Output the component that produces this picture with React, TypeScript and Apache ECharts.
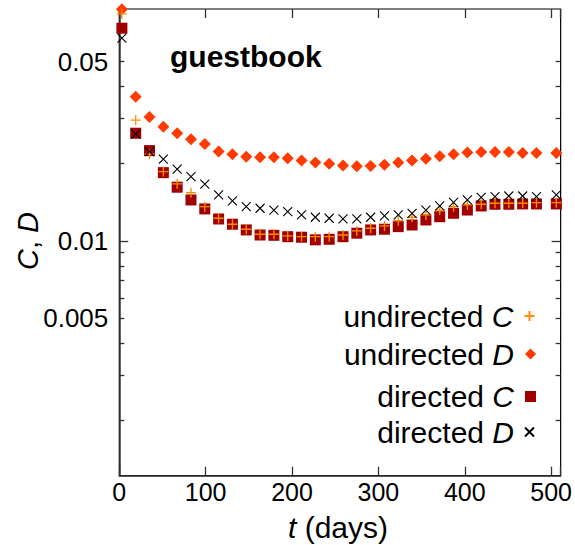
import React, { useEffect, useRef } from "react";
import * as echarts from "echarts";

// time (days) of each sample
const tDays = [3, 19, 35, 51, 67, 83, 99, 115, 131, 147, 163, 179, 195, 211, 227, 243, 259, 275, 291, 307, 323, 339, 355, 371, 387, 403, 419, 435, 451, 467, 483, 506];

const undirectedC = [0.0767, 0.0296, 0.0218, 0.01864, 0.01668, 0.01543, 0.0136, 0.01226, 0.01162, 0.01111, 0.01062, 0.01062, 0.01046, 0.0104, 0.01039, 0.01039, 0.01055, 0.01094, 0.01121, 0.01144, 0.012, 0.01237, 0.01263, 0.0132, 0.0136, 0.01382, 0.0139, 0.01403, 0.01403, 0.01403, 0.0141, 0.0141];
const undirectedD = [0.0800, 0.0365, 0.0304, 0.0279, 0.0263, 0.0249, 0.0239, 0.0223, 0.0218, 0.0213, 0.0212, 0.0212, 0.021, 0.0206, 0.0202, 0.0200, 0.0197, 0.01955, 0.0196, 0.0198, 0.0202, 0.0206, 0.0209, 0.0214, 0.0218, 0.0221, 0.0222, 0.0222, 0.0222, 0.022, 0.022, 0.022];
const directedC = [0.0675, 0.0263, 0.0225, 0.01846, 0.0162, 0.01445, 0.01333, 0.01218, 0.01162, 0.01104, 0.01055, 0.01052, 0.01039, 0.01034, 0.0101, 0.01015, 0.01039, 0.01072, 0.01104, 0.01111, 0.01137, 0.01154, 0.01207, 0.01243, 0.01282, 0.0132, 0.01369, 0.0139, 0.0139, 0.01394, 0.01394, 0.01394];
const directedD = [0.0617, 0.0261, 0.0223, 0.02083, 0.01904, 0.01781, 0.01664, 0.01511, 0.01432, 0.0136, 0.01341, 0.0132, 0.01301, 0.01263, 0.01237, 0.01226, 0.01218, 0.01218, 0.01237, 0.01252, 0.01263, 0.01282, 0.0132, 0.01369, 0.01415, 0.01445, 0.0148, 0.01488, 0.01497, 0.01497, 0.01488, 0.01511];

const yMinorTicks = [0.002, 0.003, 0.004, 0.005, 0.006, 0.007, 0.008, 0.009, 0.02, 0.03, 0.04, 0.05];
const yMajorTicks = [0.01];
const yTickLabels = [0.005, 0.01, 0.05];
const xTickLabels = [0, 100, 200, 300, 400, 500];

const FONT = "Liberation Sans, Arial, Helvetica, sans-serif";
const lg = (v: number) => Math.log10(v);
const Y_MIN = lg(0.001216);
const Y_MAX = lg(0.0802);

export default function App() {
  const ref = useRef<HTMLDivElement>(null);
  useEffect(() => {
    if (!ref.current) return;
    const chart = echarts.init(ref.current, undefined, { renderer: "svg" });
    const pts = (ys: number[]) => tDays.map((t, i) => [t, lg(ys[i])]);
    const yLabelFmt = (v: number) => {
      let best = yTickLabels[0];
      for (const l of yTickLabels) if (Math.abs(lg(l) - v) < Math.abs(lg(best) - v)) best = l;
      return String(best);
    };
    const axisLine = { show: false };
    const yBase = (pos: "left" | "right", ticks: number[], len: number, labels: boolean) => ({
      type: "value",
      position: pos,
      min: Y_MIN,
      max: Y_MAX,
      splitLine: { show: false },
      axisLine,
      axisTick: {
        show: true,
        inside: true,
        length: len,
        customValues: ticks.map(lg),
        lineStyle: { color: "#333", width: 1.3 },
      },
      axisLabel: labels
        ? {
            show: true,
            customValues: yTickLabels.map(lg),
            formatter: yLabelFmt,
            fontSize: 26,
            color: "#000",
            fontFamily: FONT,
            margin: 11,
          }
        : { show: false },
    });
    const xBase = (pos: "bottom" | "top", labels: boolean) => ({
      type: "value",
      position: pos,
      min: 0,
      max: 511,
      interval: 100,
      splitLine: { show: false },
      axisLine: pos === "bottom" ? { show: true, lineStyle: { color: "#333", width: 1.5 } } : { show: false },
      axisTick: { show: true, inside: true, length: 9, lineStyle: { color: "#333", width: 1.3 } },
      axisLabel: labels
        ? {
            show: true,
            fontSize: 25,
            color: "#000",
            fontFamily: FONT,
            margin: 4,
            customValues: xTickLabels,
          }
        : { show: false },
    });
    const rich = { i: { fontStyle: "italic", fontSize: 30, fontFamily: FONT, color: "#000" } };
    const legendAt = (name: string, top: number, size: number) => ({
      data: [name],
      orient: "vertical",
      align: "right",
      right: 39 + (11 - size) / 2,
      top,
      itemWidth: size,
      itemHeight: size,
      itemGap: 0,
      padding: 0,
      selectedMode: false,
      formatter: (n: string) => n.replace(/ ([CD])$/, " {i|$1}"),
      textStyle: { fontSize: 30, fontFamily: FONT, color: "#000", rich, padding: [0, 6, 0, 0] },
    });
    const plusPath = "path://M0,5L10,5M5,0L5,10";
    const crossPath = "path://M0,0L10,10M10,0L0,10";
    chart.setOption({
      animation: false,
      backgroundColor: "#fff",
      grid: {
        left: 119.3,
        right: 12,
        top: 9,
        bottom: 69.3,
        show: true,
        borderColor: "#000",
        borderWidth: 1.2,
        backgroundColor: "transparent",
      },
      xAxis: [xBase("bottom", true), xBase("top", false)],
      yAxis: [
        { ...yBase("left", yMinorTicks, 5, true), axisLine: { show: true, lineStyle: { color: "#333", width: 1.5 } } },
        yBase("left", yMajorTicks, 9, false),
        yBase("right", yMinorTicks, 5, false),
        yBase("right", yMajorTicks, 9, false),
      ],
      legend: [
        legendAt("undirected C", 301, 10),
        legendAt("undirected D", 339, 11),
        legendAt("directed C", 381.5, 11),
        legendAt("directed D", 417, 9),
      ],
      graphic: [
        {
          type: "text",
          x: 170,
          y: 56,
          style: { text: "guestbook", font: `bold 30px ${FONT}`, fill: "#000", verticalAlign: "middle", align: "left" },
        },
        {
          type: "text",
          x: 28,
          y: 241,
          rotation: Math.PI / 2,
          style: {
            text: "{i|C}, {i|D}",
            rich: { i: { fontStyle: "italic", fontSize: 29, fontFamily: FONT, fill: "#000" } },
            font: `29px ${FONT}`,
            fill: "#000",
            align: "center",
            verticalAlign: "middle",
          },
        },
        {
          type: "text",
          x: 338,
          y: 527,
          style: {
            text: "{i|t} (days)",
            rich: { i: { fontStyle: "italic", fontSize: 30, fontFamily: FONT, fill: "#000" } },
            font: `30px ${FONT}`,
            fill: "#000",
            align: "center",
            verticalAlign: "middle",
          },
        },
      ],
      series: [
        {
          name: "directed C",
          type: "scatter",
          clip: false,
          symbol: "rect",
          symbolSize: 11,
          data: pts(directedC),
          itemStyle: { color: "#a00000", opacity: 1 },
        },
        {
          name: "undirected D",
          type: "scatter",
          clip: false,
          symbol: "diamond",
          symbolSize: 12,
          data: pts(undirectedD),
          itemStyle: { color: "#ff3a00", opacity: 1 },
        },
        {
          name: "undirected C",
          type: "scatter",
          clip: false,
          symbol: plusPath,
          symbolSize: 10,
          data: pts(undirectedC),
          itemStyle: { color: "#ff8c00", borderColor: "#ff8c00", borderWidth: 1.3, opacity: 1 },
        },
        {
          name: "directed D",
          type: "scatter",
          clip: false,
          symbol: crossPath,
          symbolSize: 9,
          data: pts(directedD),
          itemStyle: { color: "#000", borderColor: "#000", borderWidth: 1.1, opacity: 1 },
        },
      ],
    });
    return () => chart.dispose();
  }, []);
  return <div ref={ref} style={{ width: 575, height: 545, position: "absolute", left: 0, top: 0 }} />;
}
